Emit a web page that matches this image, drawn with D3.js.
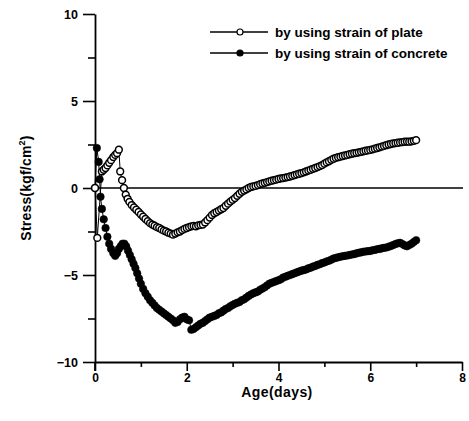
<!DOCTYPE html>
<html>
<head>
<meta charset="utf-8">
<script src="https://cdn.jsdelivr.net/npm/d3@7"></script>
<style>
  html, body { margin: 0; padding: 0; background: #fff; }
  svg { display: block; }
  text { font-family: "Liberation Sans", Arial, sans-serif; font-weight: bold; fill: #000; }
</style>
</head>
<body>
<svg id="chart" width="469" height="421"></svg>
<script>
// Stress computed from the strain of the steel plate: [age (days), stress (kgf/cm²)]
const plateSeries = [
  [0.00, 0.00], [0.05, -2.87], [0.15, 0.95], [0.19, 1.05], [0.23, 1.15], [0.27, 1.30],
  [0.31, 1.45], [0.35, 1.60], [0.40, 1.78], [0.44, 1.90], [0.48, 2.00], [0.52, 2.20],
  [0.55, 0.95], [0.59, 0.45], [0.63, 0.00], [0.67, -0.38], [0.71, -0.62], [0.75, -0.80],
  [0.80, -0.98], [0.85, -1.12], [0.90, -1.25], [0.95, -1.38], [1.00, -1.52], [1.05, -1.65],
  [1.10, -1.78], [1.15, -1.90], [1.20, -2.02], [1.25, -2.10], [1.30, -2.17], [1.35, -2.25],
  [1.40, -2.30], [1.45, -2.38], [1.50, -2.45], [1.55, -2.50], [1.60, -2.57], [1.65, -2.62],
  [1.70, -2.68], [1.75, -2.62], [1.80, -2.55], [1.85, -2.50], [1.90, -2.42], [1.95, -2.35],
  [2.00, -2.30], [2.05, -2.25], [2.10, -2.20], [2.15, -2.18], [2.20, -2.20], [2.25, -2.15],
  [2.30, -2.12], [2.35, -2.10], [2.40, -1.98], [2.45, -1.85], [2.50, -1.70], [2.55, -1.55],
  [2.60, -1.45], [2.65, -1.38], [2.70, -1.30], [2.75, -1.22], [2.80, -1.15], [2.85, -1.02],
  [2.90, -0.90], [2.95, -0.78], [3.00, -0.68], [3.05, -0.58], [3.10, -0.45], [3.15, -0.33],
  [3.20, -0.22], [3.25, -0.15], [3.30, -0.08], [3.35, 0.00], [3.40, 0.06], [3.45, 0.09],
  [3.50, 0.12], [3.55, 0.17], [3.60, 0.22], [3.65, 0.26], [3.70, 0.30], [3.75, 0.34],
  [3.80, 0.38], [3.85, 0.42], [3.90, 0.45], [3.95, 0.48], [4.00, 0.52], [4.05, 0.55],
  [4.10, 0.57], [4.15, 0.60], [4.20, 0.63], [4.25, 0.66], [4.30, 0.70], [4.35, 0.74],
  [4.40, 0.78], [4.45, 0.82], [4.50, 0.86], [4.55, 0.90], [4.60, 0.95], [4.65, 1.00],
  [4.70, 1.05], [4.75, 1.10], [4.80, 1.15], [4.85, 1.20], [4.90, 1.26], [4.95, 1.32],
  [5.00, 1.40], [5.05, 1.47], [5.10, 1.54], [5.15, 1.62], [5.20, 1.68], [5.25, 1.73],
  [5.30, 1.77], [5.35, 1.80], [5.40, 1.84], [5.45, 1.87], [5.50, 1.90], [5.55, 1.94],
  [5.60, 1.97], [5.65, 2.00], [5.70, 2.02], [5.75, 2.05], [5.80, 2.08], [5.85, 2.11],
  [5.90, 2.14], [5.95, 2.16], [6.00, 2.19], [6.05, 2.22], [6.10, 2.26], [6.15, 2.30],
  [6.20, 2.34], [6.25, 2.38], [6.30, 2.42], [6.35, 2.46], [6.40, 2.50], [6.45, 2.53],
  [6.50, 2.56], [6.55, 2.58], [6.60, 2.60], [6.65, 2.62], [6.70, 2.64], [6.75, 2.66],
  [6.80, 2.67], [6.85, 2.66], [6.90, 2.68], [6.95, 2.71], [7.00, 2.75]
];

// Stress computed from the strain of the concrete: [age (days), stress (kgf/cm²)]
const concreteSeries = [
  [0.00, 0.00], [0.04, 2.30], [0.08, 1.50], [0.10, 0.50], [0.12, -0.50], [0.15, -1.20],
  [0.19, -1.80], [0.23, -2.30], [0.27, -2.80], [0.31, -3.20], [0.35, -3.50], [0.40, -3.75],
  [0.44, -3.90], [0.48, -3.75], [0.52, -3.50], [0.56, -3.35], [0.60, -3.20], [0.64, -3.20],
  [0.68, -3.35], [0.72, -3.60], [0.76, -3.85], [0.80, -4.10], [0.84, -4.35], [0.88, -4.60],
  [0.92, -4.90], [0.96, -5.20], [1.00, -5.50], [1.05, -5.80], [1.10, -6.05], [1.15, -6.25],
  [1.20, -6.45], [1.25, -6.60], [1.30, -6.75], [1.35, -6.90], [1.40, -7.00], [1.45, -7.10],
  [1.50, -7.20], [1.55, -7.30], [1.60, -7.40], [1.65, -7.50], [1.70, -7.60], [1.75, -7.75],
  [1.80, -7.70], [1.85, -7.55], [1.90, -7.45], [1.95, -7.40], [2.00, -7.55], [2.05, -7.60],
  [2.10, -8.15], [2.15, -8.10], [2.20, -8.00], [2.25, -7.90], [2.30, -7.80], [2.35, -7.75],
  [2.40, -7.65], [2.45, -7.55], [2.50, -7.45], [2.55, -7.40], [2.60, -7.35], [2.65, -7.30],
  [2.70, -7.20], [2.75, -7.15], [2.80, -7.05], [2.85, -6.95], [2.90, -6.90], [2.95, -6.80],
  [3.00, -6.72], [3.05, -6.65], [3.10, -6.60], [3.15, -6.55], [3.20, -6.45], [3.25, -6.40],
  [3.30, -6.30], [3.35, -6.20], [3.40, -6.12], [3.45, -6.05], [3.50, -6.00], [3.55, -5.95],
  [3.60, -5.85], [3.65, -5.78], [3.70, -5.70], [3.75, -5.60], [3.80, -5.50], [3.85, -5.45],
  [3.90, -5.40], [3.95, -5.35], [4.00, -5.30], [4.05, -5.25], [4.10, -5.15], [4.15, -5.10],
  [4.20, -5.05], [4.25, -5.00], [4.30, -4.95], [4.35, -4.90], [4.40, -4.85], [4.45, -4.80],
  [4.50, -4.75], [4.55, -4.72], [4.60, -4.68], [4.65, -4.62], [4.70, -4.58], [4.75, -4.52],
  [4.80, -4.48], [4.85, -4.42], [4.90, -4.38], [4.95, -4.32], [5.00, -4.28], [5.05, -4.22],
  [5.10, -4.18], [5.15, -4.12], [5.20, -4.05], [5.25, -4.02], [5.30, -3.98], [5.35, -3.95],
  [5.40, -3.92], [5.45, -3.90], [5.50, -3.88], [5.55, -3.85], [5.60, -3.82], [5.65, -3.80],
  [5.70, -3.76], [5.75, -3.72], [5.80, -3.70], [5.85, -3.66], [5.90, -3.65], [5.95, -3.63],
  [6.00, -3.62], [6.05, -3.58], [6.10, -3.56], [6.15, -3.52], [6.20, -3.50], [6.25, -3.47],
  [6.30, -3.44], [6.35, -3.42], [6.40, -3.38], [6.45, -3.33], [6.50, -3.28], [6.55, -3.22],
  [6.60, -3.18], [6.65, -3.15], [6.70, -3.22], [6.75, -3.30], [6.80, -3.35], [6.85, -3.28],
  [6.90, -3.20], [6.95, -3.10], [7.00, -3.00]
];

const xMajorTicks = [0, 2, 4, 6, 8];
const xMinorTicks = [1, 3, 5, 7];
const yMajorTicks = [-10, -5, 0, 5, 10];
const yMinorTicks = [-7.5, -2.5, 2.5, 7.5];

const legendLabels = ["by using strain of plate", "by using strain of concrete"];
const xTitle = "Age(days)";

const svg = d3.select("#chart");

const x = d3.scaleLinear().domain([0, 8]).range([95, 462]);
const y = d3.scaleLinear().domain([-10, 10]).range([362, 14]);

// Zero reference line
svg.append("line")
  .attr("x1", x(0)).attr("x2", 463)
  .attr("y1", y(0)).attr("y2", y(0))
  .attr("stroke", "#000").attr("stroke-width", 1.4);

// Axes: major ticks long, minor ticks short, both pointing outward
function drawAxis(axisGen, transform) {
  const g = svg.append("g").attr("transform", transform).call(axisGen);
  g.selectAll("path.domain").attr("stroke-width", 1.8);
  g.selectAll("line").attr("stroke-width", 1.6);
  return g;
}

const xAxis = drawAxis(
  d3.axisBottom(x).tickValues(xMajorTicks).tickSize(9).tickSizeOuter(0).tickPadding(2),
  `translate(0,${y(-10)})`
);
xAxis.selectAll("text").attr("font-size", 12).attr("font-family", null);
drawAxis(
  d3.axisBottom(x).tickValues(xMinorTicks).tickSize(5).tickSizeOuter(0).tickFormat(""),
  `translate(0,${y(-10)})`
).select("path.domain").remove();

const yAxis = drawAxis(
  d3.axisLeft(y).tickValues(yMajorTicks).tickSize(12).tickSizeOuter(0).tickPadding(5),
  `translate(${x(0)},0)`
);
yAxis.selectAll("text").attr("font-size", 12.5).attr("font-family", null);
drawAxis(
  d3.axisLeft(y).tickValues(yMinorTicks).tickSize(7).tickSizeOuter(0).tickFormat(""),
  `translate(${x(0)},0)`
).select("path.domain").remove();

// Y axis extends slightly below the x axis
svg.append("line")
  .attr("x1", x(0)).attr("x2", x(0))
  .attr("y1", y(-10)).attr("y2", y(-10) + 9)
  .attr("stroke", "#000").attr("stroke-width", 1.8);

// Axis titles
svg.append("text")
  .attr("x", 277).attr("y", 397)
  .attr("text-anchor", "middle")
  .attr("font-size", 14)
  .attr("letter-spacing", 0.4)
  .text(xTitle);

const yTitle = svg.append("text")
  .attr("transform", `translate(31,${y(0)}) rotate(-90)`)
  .attr("text-anchor", "middle")
  .attr("font-size", 14)
  .attr("letter-spacing", 0.2);
yTitle.append("tspan").text("Stress(kgf/cm");
yTitle.append("tspan").attr("font-size", 9).attr("dy", -6).text("2");
yTitle.append("tspan").attr("dy", 6).text(")");

// Series
const line = d3.line().x(d => x(d[0])).y(d => y(d[1]));

function drawSeries(data, filled, r) {
  svg.append("path")
    .datum(data)
    .attr("d", line)
    .attr("fill", "none")
    .attr("stroke", "#000")
    .attr("stroke-width", 1);
  svg.append("g").selectAll("circle")
    .data(data)
    .join("circle")
    .attr("cx", d => x(d[0]))
    .attr("cy", d => y(d[1]))
    .attr("r", r)
    .attr("fill", filled ? "#000" : "#fff")
    .attr("stroke", "#000")
    .attr("stroke-width", filled ? 0.5 : 1.5);
}

drawSeries(concreteSeries, true, 3.8);
drawSeries(plateSeries, false, 3.4);

// Legend
const legend = svg.append("g");
legendLabels.forEach((label, i) => {
  const ly = 32 + i * 21;
  legend.append("line")
    .attr("x1", 210).attr("x2", 268)
    .attr("y1", ly).attr("y2", ly)
    .attr("stroke", "#000").attr("stroke-width", 1.4);
  legend.append("circle")
    .attr("cx", 240).attr("cy", ly)
    .attr("r", 3)
    .attr("fill", i === 0 ? "#fff" : "#000")
    .attr("stroke", "#000").attr("stroke-width", 1.2);
  legend.append("text")
    .attr("x", 275).attr("y", ly + 5)
    .attr("font-size", 13.5)
    .text(label);
});
</script>
</body>
</html>
